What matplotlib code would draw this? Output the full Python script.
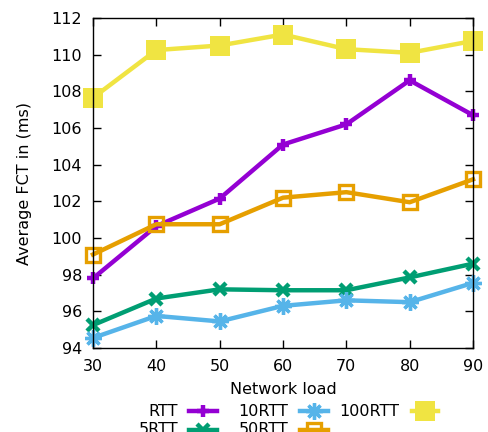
import matplotlib
matplotlib.use('Agg')
import matplotlib.pyplot as plt
from matplotlib.lines import Line2D

load = [30, 40, 50, 60, 70, 80, 90]
rtt_1 = [97.8, 100.65, 102.15, 105.1, 106.2, 108.6, 106.7]
rtt_5 = [95.25, 96.7, 97.2, 97.15, 97.15, 97.85, 98.6]
rtt_10 = [94.55, 95.75, 95.45, 96.3, 96.6, 96.5, 97.55]
rtt_50 = [99.1, 100.75, 100.75, 102.2, 102.5, 101.95, 103.2]
rtt_100 = [107.65, 110.25, 110.5, 111.1, 110.3, 110.1, 110.75]

plt.rcParams['font.family'] = 'DejaVu Sans'
plt.rcParams['font.size'] = 11.5

W, H = 489, 432
fig = plt.figure(figsize=(W / 100, H / 100), dpi=100)
ax = fig.add_axes([93 / W, 1 - 348 / H, 380 / W, 330 / H])

lw = 3.2
styles = [
    ('RTT', rtt_1, dict(color='#9400D3', marker='+', ms=9, mew=3.2)),
    ('5RTT', rtt_5, dict(color='#009E73', marker='x', ms=9, mew=3.2)),
    ('10RTT', rtt_10, dict(color='#56B4E9', marker=(8, 2, 0), ms=12, mew=2.4)),
    ('50RTT', rtt_50, dict(color='#E69F00', marker='s', ms=10, mew=2.4, mfc='none')),
    ('100RTT', rtt_100, dict(color='#F0E442', marker='s', ms=14, mew=0)),
]
for name, vals, st in styles:
    ax.plot(load, vals, lw=lw, label=name, clip_on=False, **st)

ax.set_xlim(30, 90)
ax.set_ylim(94, 112)
ax.set_xticks(range(30, 91, 10))
ax.set_yticks(range(94, 113, 2))
ax.tick_params(direction='in', length=6, width=1, top=True, right=True, pad=8)
for s in ax.spines.values():
    s.set_linewidth(1)
    s.set_zorder(5)

ax.set_xlabel('Network load', labelpad=6)
ax.set_ylabel('Average FCT in (ms)', labelpad=14)

# key below the plot, gnuplot style: right-aligned text then a sample line
col_text = [178, 288, 399]
col_line = [(189, 217), (300, 328), (412, 438)]
row_y = [411, 430]
for i, (name, vals, st) in enumerate(styles):
    col, row = i // 2, i % 2
    y = 1 - row_y[row] / H
    fig.text(col_text[col] / W, y, name, ha='right', va='center')
    x0, x1 = col_line[col]
    fig.add_artist(Line2D([x0 / W, x1 / W], [y, y], lw=lw, color=st['color']))
    fig.add_artist(Line2D([(x0 + x1) / 2 / W], [y], lw=0, **st))

fig.savefig('out.png', dpi=100)
